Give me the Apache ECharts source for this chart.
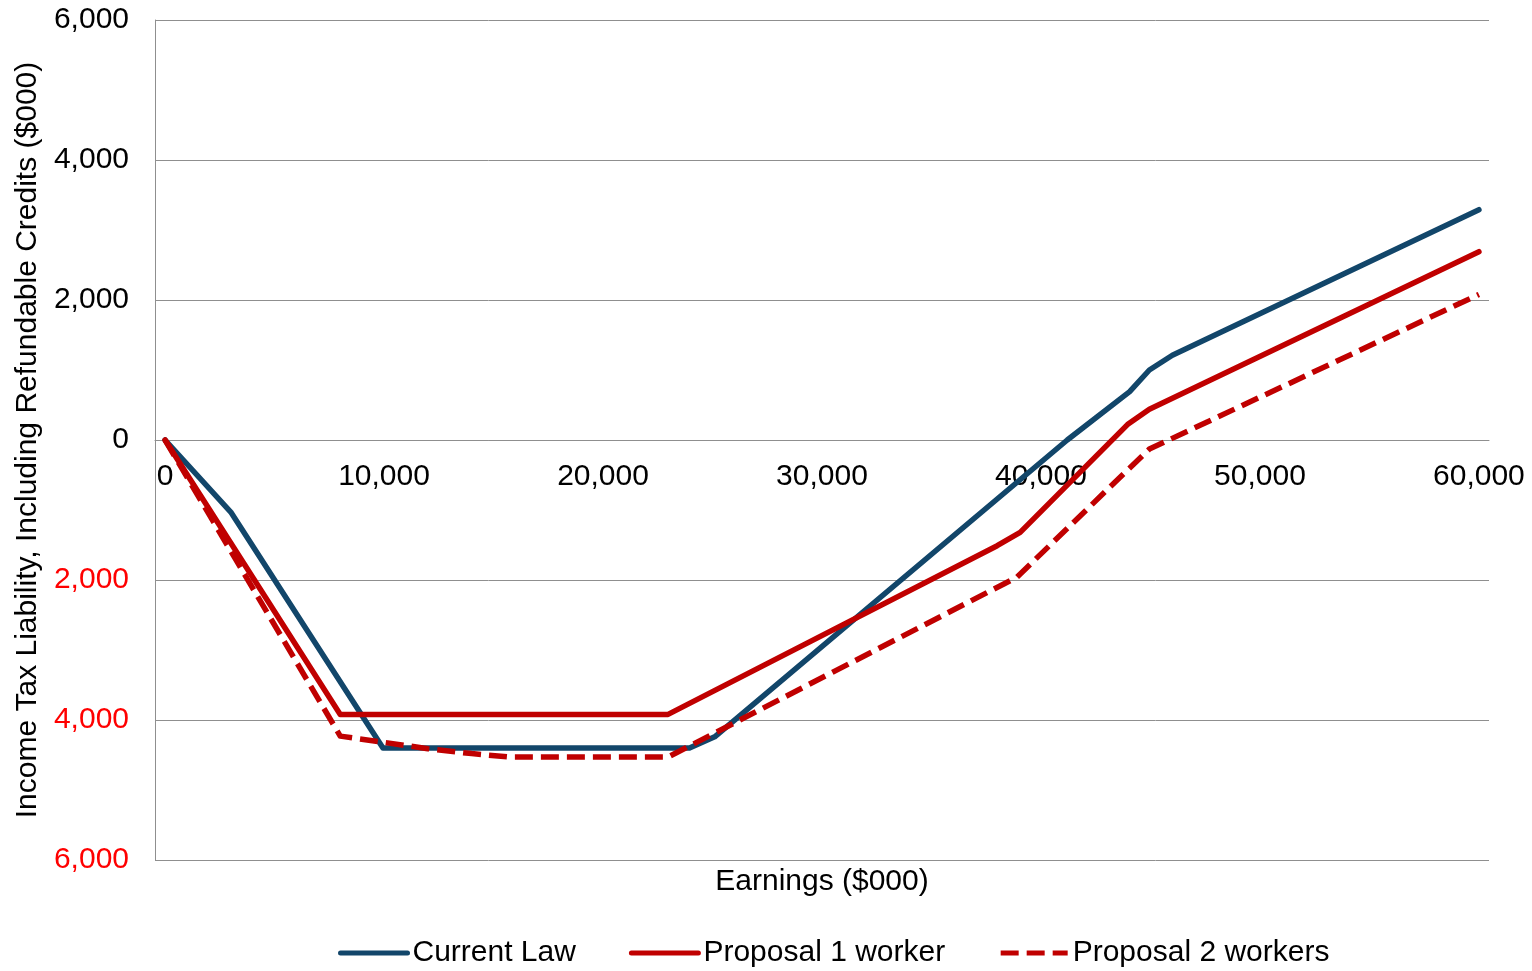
<!DOCTYPE html>
<html>
<head>
<meta charset="utf-8">
<script src="https://cdn.jsdelivr.net/npm/echarts@6/dist/echarts.min.js"></script>
<style>
html,body{margin:0;padding:0;background:#fff;}
#chart{width:1532px;height:971px;}
</style>
</head>
<body>
<div id="chart"></div>
<script>
// Data (earnings $000, tax $000)
const xTickValues = [0, 10000, 20000, 30000, 40000, 50000, 60000];
const yTickValues = [-6000, -4000, -2000, 0, 2000, 4000, 6000];

const currentLawEarnings = [0, 3000, 9950, 23950, 25100, 41200, 44050, 44950, 46000, 60000];
const currentLawTax      = [0, -1030, -4400, -4400, -4240, 0, 690, 1000, 1210, 3290];

const proposal1Earnings = [0, 8000, 22970, 38000, 39050, 43950, 44950, 60000];
const proposal1Tax      = [0, -3920, -3920, -1510, -1320, 220, 440, 2690];

const proposal2Earnings = [0, 8000, 10000, 12000, 14000, 15800, 22970, 38900, 43950, 44950, 60000];
const proposal2Tax      = [0, -4230, -4320, -4410, -4480, -4530, -4530, -1960, -430, -130, 2080];

const seriesNames = ['Current Law', 'Proposal 1 worker', 'Proposal 2 workers'];

function pairs(xs, ys) { return xs.map((x, i) => [x, ys[i]]); }

const FONT = '"Liberation Sans", Arial, sans-serif';
const BLUE = '#12466A';
const RED = '#C00000';
const GRID = '#8f8f8f';
const FS = 30;

const chart = echarts.init(document.getElementById('chart'), null, {renderer: 'canvas'});
chart.setOption({
  animation: false,
  textStyle: {fontFamily: FONT},
  grid: {left: 155, right: 43, top: 20, bottom: 111, containLabel: false},
  legend: {
    top: 933,
    left: 333,
    itemWidth: 67,
    itemHeight: 14,
    itemGap: 53,
    itemStyle: {opacity: 0},
    lineStyle: {width: 5},
    textStyle: {fontSize: FS, color: '#000', fontFamily: FONT},
    data: seriesNames
  },
  graphic: [{
    type: 'text',
    x: 822, y: 882,
    style: {
      text: 'Earnings ($000)',
      fontSize: FS, fontFamily: FONT, fill: '#000',
      textAlign: 'center', textVerticalAlign: 'middle'
    }
  }],
  xAxis: {
    type: 'value',
    min: -460,
    max: 60460,
    position: 'bottom',
    offset: -420,
    axisLine: {show: true, onZero: false, lineStyle: {color: GRID, width: 1}},
    axisTick: {show: false},
    splitLine: {show: false},
    axisLabel: {
      customValues: xTickValues,
      margin: 22,
      fontSize: FS,
      color: '#000',
      fontFamily: FONT,
      formatter: v => Number(v).toLocaleString('en-US')
    }
  },
  yAxis: {
    type: 'value',
    min: -6000,
    max: 6000,
    interval: 2000,
    name: 'Income Tax Liability, Including Refundable Credits ($000)',
    nameLocation: 'middle',
    nameGap: 112,
    nameTextStyle: {fontSize: FS, color: '#000', fontFamily: FONT},
    axisLine: {show: true, onZero: false, lineStyle: {color: GRID, width: 1}},
    axisTick: {show: false},
    splitLine: {show: true, lineStyle: {color: GRID, width: 1}},
    axisLabel: {
      margin: 26,
      fontSize: FS,
      fontFamily: FONT,
      color: v => (Number(v) < 0 ? '#FF0000' : '#000000'),
      formatter: v => Math.abs(Number(v)).toLocaleString('en-US')
    }
  },
  series: [
    {
      name: seriesNames[0], type: 'line', symbol: 'none',
      data: pairs(currentLawEarnings, currentLawTax),
      lineStyle: {color: BLUE, width: 5.5, cap: 'round', join: 'round'},
      itemStyle: {color: BLUE}
    },
    {
      name: seriesNames[1], type: 'line', symbol: 'none',
      data: pairs(proposal1Earnings, proposal1Tax),
      lineStyle: {color: RED, width: 5.5, cap: 'round', join: 'round'},
      itemStyle: {color: RED}
    },
    {
      name: seriesNames[2], type: 'line', symbol: 'none',
      data: pairs(proposal2Earnings, proposal2Tax),
      lineStyle: {color: RED, width: 5.5, type: [18, 8], join: 'round'},
      itemStyle: {color: RED}
    }
  ]
});
</script>
</body>
</html>
